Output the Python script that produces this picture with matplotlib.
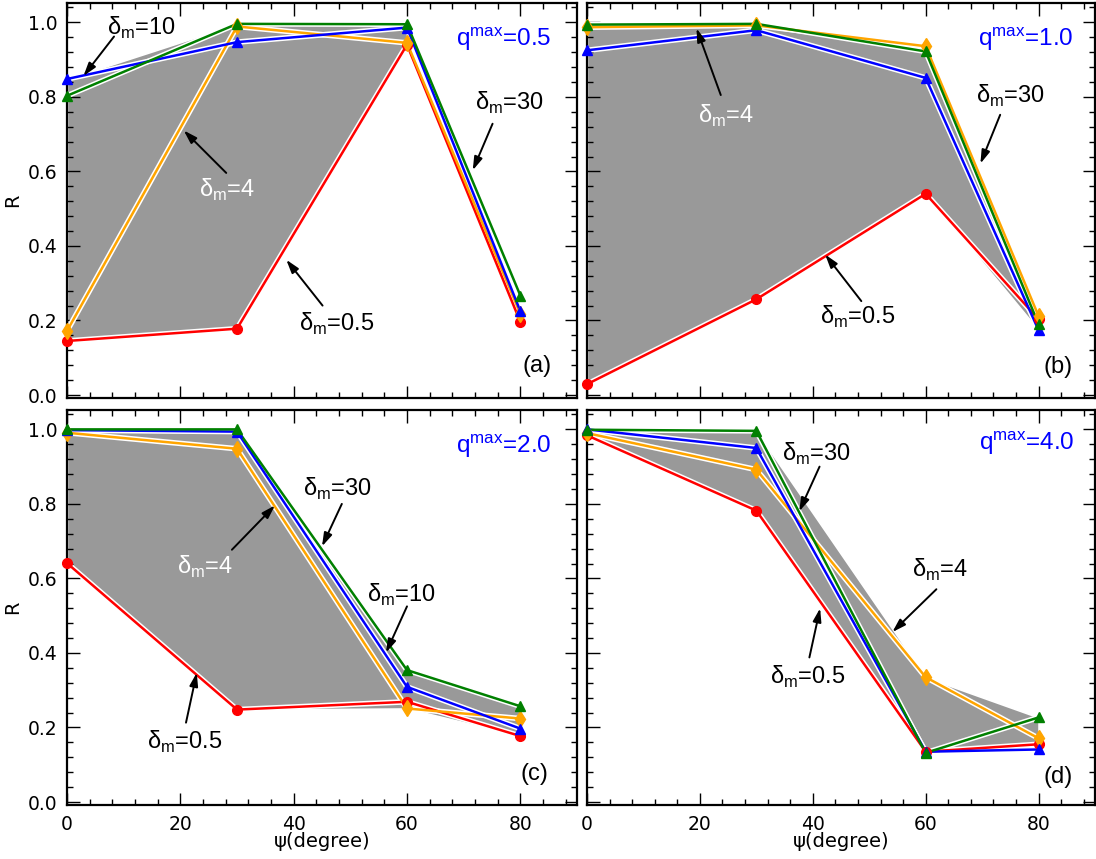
import numpy as np
import matplotlib
matplotlib.use("Agg")
import matplotlib.pyplot as plt
from matplotlib.ticker import MultipleLocator

plt.rcParams['font.family'] = ['DejaVu Sans']

# ---- data -----------------------------------------------------------
psi = [0, 30, 60, 80]                      # degrees
delta_labels = ["0.5", "4", "10", "30"]
qmax_labels = ["0.5", "1.0", "2.0", "4.0"]
panel_tags = ["(a)", "(b)", "(c)", "(d)"]

# q^max = 0.5
R_q05_d05 = [0.145, 0.178, 0.940, 0.196]
R_q05_d4 = [0.172, 0.989, 0.945, 0.218]
R_q05_d10 = [0.848, 0.947, 0.986, 0.225]
R_q05_d30 = [0.803, 0.996, 0.995, 0.267]
# q^max = 1.0
R_q10_d05 = [0.029, 0.257, 0.540, 0.203]
R_q10_d4 = [0.987, 0.992, 0.936, 0.212]
R_q10_d10 = [0.925, 0.979, 0.851, 0.174]
R_q10_d30 = [0.994, 0.996, 0.922, 0.190]
# q^max = 2.0
R_q20_d05 = [0.641, 0.248, 0.269, 0.177]
R_q20_d4 = [0.991, 0.948, 0.251, 0.224]
R_q20_d10 = [0.998, 0.994, 0.309, 0.197]
R_q20_d30 = [1.000, 1.000, 0.354, 0.257]
# q^max = 4.0
R_q40_d05 = [0.984, 0.782, 0.135, 0.155]
R_q40_d4 = [0.990, 0.892, 0.335, 0.171]
R_q40_d10 = [1.000, 0.950, 0.135, 0.141]
R_q40_d30 = [0.999, 0.996, 0.132, 0.227]

panels = [
    [R_q05_d05, R_q05_d4, R_q05_d10, R_q05_d30],
    [R_q10_d05, R_q10_d4, R_q10_d10, R_q10_d30],
    [R_q20_d05, R_q20_d4, R_q20_d10, R_q20_d30],
    [R_q40_d05, R_q40_d4, R_q40_d10, R_q40_d30],
]
shade_end = [60, 80, 80, 80]

# ---- styles ---------------------------------------------------------
colors = ["#ff0000", "#ffa500", "#0000ff", "#008000"]
markers = ["o", "d", "^", "^"]
fill_color = "#999999"
ann_font = ['Liberation Sans', 'DejaVu Sans']
ann_size = 17

# annotation layout: (series index, text pos, tail, head, text colour)
notes = [
    [(2, (13.2, 0.968), (8.3, 0.962), (2.9, 0.856), 'black'),
     (1, (28.2, 0.533), (28.1, 0.596), (20.6, 0.710), 'white'),
     (0, (47.6, 0.171), (45.1, 0.240), (38.7, 0.363), 'black'),
     (3, (78.1, 0.765), (75.1, 0.728), (71.6, 0.603), 'black')],
    [(1, (24.6, 0.731), (23.7, 0.805), (19.4, 0.984), 'white'),
     (3, (75.0, 0.785), (73.2, 0.752), (69.7, 0.621), 'black'),
     (0, (47.9, 0.192), (48.6, 0.252), (42.2, 0.377), 'black')],
    [(1, (24.4, 0.613), (29.1, 0.677), (36.7, 0.796), 'white'),
     (0, (20.7, 0.144), (21.0, 0.213), (22.9, 0.347), 'black'),
     (3, (47.7, 0.822), (48.5, 0.800), (45.0, 0.686), 'black'),
     (2, (59.1, 0.538), (60.0, 0.525), (56.3, 0.401), 'black')],
    [(3, (40.6, 0.915), (41.2, 0.900), (37.6, 0.780), 'black'),
     (1, (62.5, 0.604), (61.9, 0.571), (54.1, 0.456), 'black'),
     (0, (39.1, 0.317), (39.4, 0.388), (41.3, 0.520), 'black')],
]
q_pos = [(0.950, 0.890), (0.957, 0.890), (0.951, 0.890), (0.960, 0.899)]
tag_pos = [(0.950, 0.067), (0.956, 0.064), (0.944, 0.063), (0.956, 0.056)]

W, H = 1096, 859
fig = plt.figure(figsize=(W / 100, H / 100), dpi=100)
boxes = [
    (67, 3, 577, 398), (587, 3, 1095, 398),
    (67, 410, 577, 805), (587, 410, 1095, 805),
]

for k, (l, t, r, b) in enumerate(boxes):
    ax = fig.add_axes([l / W, 1 - b / H, (r - l) / W, (b - t) / H])
    series = panels[k]
    x = np.array(psi, dtype=float)
    arr = np.array(series)
    sel = x <= shade_end[k]
    lo = arr.min(axis=0)[sel]
    hi = arr.max(axis=0)[sel]
    ax.fill_between(x[sel], lo, hi, facecolor=fill_color, edgecolor='white',
                    linewidth=1.2, zorder=1)
    # white halo under every curve
    for ys in series:
        ax.plot(psi, ys, color='white', lw=4.0, zorder=2,
                solid_capstyle='round', solid_joinstyle='round')
    for ys, c, m in zip(series, colors, markers):
        ax.plot(psi, ys, color=c, lw=1.8, zorder=3)
        ax.plot(psi, ys, ls='none', marker=m, color=c, ms=7 if m != 'd' else 8,
                zorder=4, clip_on=False)

    for idx, tp, tail, head, tc in notes[k]:
        ax.text(tp[0], tp[1], "δ$_\\mathregular{m}$=" + delta_labels[idx],
                ha='center', va='baseline', fontsize=ann_size, color=tc,
                family=ann_font, zorder=6)
        ax.annotate('', xy=head, xytext=tail,
                    arrowprops=dict(arrowstyle='-|>,head_length=0.8,head_width=0.25',
                                    color='black', lw=1.4, shrinkA=0, shrinkB=0),
                    zorder=6)

    ax.text(q_pos[k][0], q_pos[k][1], "q$^\\mathregular{max}$=" + qmax_labels[k],
            transform=ax.transAxes, ha='right', va='baseline', fontsize=ann_size + 0.5,
            color='#0000ff', family=ann_font, zorder=6)
    ax.text(tag_pos[k][0], tag_pos[k][1], panel_tags[k], transform=ax.transAxes,
            ha='right', va='baseline', fontsize=ann_size, color='black',
            family=ann_font, zorder=6)

    ax.set_xlim(0, 90)
    ax.set_ylim(-0.008, 1.052)
    ax.xaxis.set_major_locator(MultipleLocator(20))
    ax.xaxis.set_minor_locator(MultipleLocator(4))
    ax.yaxis.set_major_locator(MultipleLocator(0.2))
    ax.yaxis.set_minor_locator(MultipleLocator(0.04))
    ax.tick_params(which='both', direction='in', top=True, right=True,
                   width=1.0, labelsize=13.5)
    ax.tick_params(which='major', length=9)
    ax.tick_params(which='minor', length=4.5)
    ax.tick_params(axis='y', pad=7)
    ax.tick_params(axis='x', pad=7)
    for s in ax.spines.values():
        s.set_linewidth(1.6)
    ax.yaxis.set_major_formatter(plt.FuncFormatter(lambda v, p: f"{v:.1f}"))

    if k in (0, 2):
        ax.set_ylabel("R", fontsize=14, labelpad=4)
    else:
        ax.tick_params(labelleft=False)
    if k in (2, 3):
        ax.set_xlabel("ψ(degree)", fontsize=14, labelpad=-1)
    else:
        ax.tick_params(labelbottom=False)

fig.savefig("out.png", dpi=100)
